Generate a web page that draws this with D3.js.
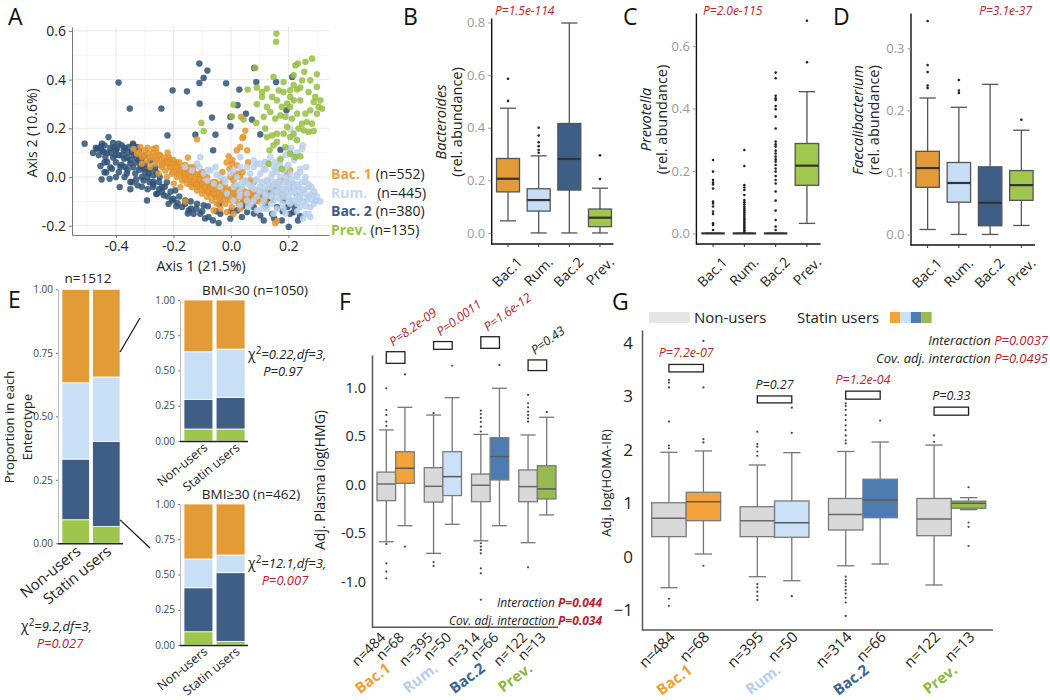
<!DOCTYPE html>
<html><head><meta charset="utf-8">
<script src="https://cdn.jsdelivr.net/npm/d3@7"></script>
<style>body{margin:0;background:#fff} text{font-family:'Open Sans',sans-serif}</style>
</head><body><svg id="chart" width="1050" height="700"></svg>
<script>
// ---------------- DATA ----------------
const enterotypes = ["Bac.1","Rum.","Bac.2","Prev."];
const legendLabels = ["Bac. 1","Rum.","Bac. 2","Prev."];
const legendN = [552,445,380,135];
const axTicksX = [-0.4,-0.2,0,0.2];
const axTicksY = [-0.2,0,0.2,0.4,0.6];

const scatterBac2 = [[-0.509,0.137],[-0.391,0.388],[-0.352,0.281],[-0.242,0.281],[-0.203,0.356],[-0.153,0.352],[-0.110,0.466],[-0.082,0.437],[-0.095,0.407],[-0.110,0.386],[-0.109,0.301],[-0.017,0.385],[-0.221,0.171],[-0.124,0.174],[-0.066,0.244],[-0.054,0.174],[-0.062,0.110],[-0.002,0.247],[0.023,0.295],[-0.002,0.208],[0.029,0.359],[0.052,0.260],[0.073,0.236],[0.081,0.448],[0.088,0.390],[0.102,0.175],[0.157,0.390],[0.193,0.274],[0.213,0.411],[0.172,0.112],[0.201,-0.205],[0.233,-0.178],[0.218,-0.144],
[-0.480,0.099],[-0.454,0.123],[-0.449,0.137],[-0.454,0.045],[-0.437,0.082],[-0.434,0.019],[-0.422,-0.007],[-0.426,0.164],[-0.408,0.123],[-0.402,0.089],[-0.391,0.137],[-0.385,0.041],[-0.387,-0.041],[-0.373,0.110],[-0.371,0.075],[-0.362,0.014],[-0.356,0.123],[-0.350,0.055],[-0.344,-0.021],[-0.339,0.089],[-0.333,0.014],[-0.327,0.123],[-0.325,-0.034],[-0.315,0.041],[-0.310,0.075],[-0.304,-0.014],[-0.292,-0.096],[-0.286,0.014],[-0.281,0.068],[-0.271,-0.041],[-0.263,0.041],[-0.257,-0.068],[-0.248,0.000],[-0.240,-0.041],[-0.234,-0.075],[-0.223,-0.021],[-0.217,-0.110],[-0.205,-0.096],[-0.194,-0.055],[-0.186,-0.107],[-0.170,-0.123],[-0.159,-0.096],[-0.147,-0.137],[-0.139,-0.130],[-0.130,-0.151],[-0.118,-0.110],[-0.107,-0.151],[-0.095,-0.116],[-0.078,-0.164],[-0.063,-0.178],[-0.043,-0.189],[-0.037,-0.151],[-0.002,-0.171],[0.021,-0.137],[0.038,-0.164],[0.056,-0.144],[0.079,-0.123],[0.102,-0.158],[0.114,-0.178],[0.125,-0.096],[0.143,-0.151],[0.160,-0.123],[0.177,-0.178],[0.197,-0.123],[0.206,-0.151],[0.183,-0.096],[0.096,-0.068],[0.079,-0.062],[0.125,-0.062],[0.044,-0.096],
[-0.466,0.116],[-0.443,0.103],[-0.431,0.062],[-0.414,0.034],[-0.397,0.116],[-0.379,0.089],[-0.368,0.041],[-0.344,0.103],[-0.341,0.137],[-0.321,0.068],[-0.298,0.034],[-0.283,-0.021],[-0.269,0.007],[-0.301,0.089],[-0.418,0.10],[-0.36,0.08],[-0.33,0.06],[-0.40,0.00],[-0.35,-0.05],[-0.30,0.02],[-0.27,-0.02],[-0.25,-0.05],
[-0.47,0.12],[-0.46,0.09],[-0.45,0.11],[-0.44,0.13],[-0.44,0.06],[-0.43,0.10],[-0.42,0.12],[-0.42,0.04],[-0.41,0.08],[-0.41,0.14],[-0.40,0.06],[-0.40,0.11],[-0.39,0.02],[-0.39,0.09],[-0.38,0.13],[-0.38,0.05],[-0.37,0.00],[-0.37,0.12],[-0.36,0.03],[-0.36,0.10],[-0.35,0.07],[-0.35,-0.02],[-0.34,0.04],[-0.34,0.13],[-0.33,0.08],[-0.33,-0.01],[-0.32,0.03],[-0.32,0.11],[-0.31,0.00],[-0.31,-0.04],[-0.30,0.05],[-0.29,0.00],[-0.29,-0.05],[-0.28,0.03],[-0.27,-0.03],[-0.26,0.02],[-0.26,-0.07],[-0.25,-0.02],[-0.24,-0.06],[-0.23,-0.04],[-0.22,-0.08],[-0.21,-0.06],[-0.20,-0.09],[-0.19,-0.12],[-0.18,-0.08],[-0.16,-0.11],[-0.15,-0.15],[-0.14,-0.10],[-0.12,-0.13],[-0.10,-0.14],[-0.09,-0.17],[-0.08,-0.12],[-0.05,-0.14],[-0.04,-0.11],[0.00,-0.14],[0.04,-0.12],[0.08,-0.15],[0.12,-0.12],[0.15,-0.17],[0.18,-0.14],[0.22,-0.12],[0.24,-0.16],[0.14,-0.09],[0.10,-0.07],[0.06,-0.08],[-0.44,0.02],[-0.45,-0.01]];

const scatterBac1 = [[-0.339,0.116],[-0.327,0.096],[-0.315,0.123],[-0.310,0.082],[-0.298,0.110],[-0.292,0.068],[-0.286,0.096],[-0.275,0.082],[-0.269,0.116],[-0.263,0.055],[-0.257,0.075],[-0.246,0.089],[-0.240,0.041],[-0.234,0.068],[-0.228,0.027],[-0.223,0.055],[-0.217,0.082],[-0.211,0.041],[-0.205,0.014],[-0.199,0.055],[-0.194,0.027],[-0.188,0.000],[-0.182,0.041],[-0.176,0.014],[-0.170,-0.014],[-0.165,0.021],[-0.159,0.000],[-0.153,-0.027],[-0.147,0.014],[-0.141,-0.014],[-0.136,-0.041],[-0.130,0.000],[-0.124,-0.027],[-0.118,-0.055],[-0.112,-0.014],[-0.107,-0.041],[-0.101,-0.068],[-0.095,-0.027],[-0.089,-0.055],[-0.083,-0.082],[-0.078,-0.041],[-0.072,-0.068],[-0.066,-0.096],[-0.060,-0.055],[-0.054,-0.082],[-0.049,-0.110],[-0.043,-0.062],[-0.037,-0.096],[-0.031,-0.075],[-0.026,-0.041],[-0.020,-0.110],[-0.014,-0.082],[-0.008,-0.055],[-0.002,-0.096],[0.003,-0.123],[0.009,-0.075],[0.015,-0.096],[0.021,-0.062],[0.027,-0.110],[0.032,-0.082],[0.038,-0.048],[0.044,-0.096],[0.056,-0.068],[0.061,-0.110],[0.067,-0.082],[0.079,-0.055],[0.085,-0.096],[0.096,-0.068],[0.108,-0.062],[0.119,-0.082],[0.131,-0.048],[0.143,-0.068],
[-0.310,0.055],[-0.281,0.041],[-0.252,0.014],[-0.223,0.000],[-0.199,-0.027],[-0.153,0.041],[-0.130,0.041],[-0.107,0.014],[-0.083,0.000],[-0.054,-0.021],[-0.028,-0.014],[0.009,-0.014],[0.023,0.014],[-0.002,0.000],[0.032,0.000],[0.067,-0.014],[-0.060,-0.137],[-0.014,-0.144],[0.009,-0.151],[0.032,-0.130],[-0.037,-0.130],
[-0.118,0.155],[-0.008,0.085],[0.021,0.048],[0.003,0.055],[0.035,0.247],[0.042,0.164],[0.032,0.123],[0.056,0.110],[0.015,-0.034],[-0.005,0.034],[0.093,-0.099],[0.154,-0.189],[0.160,-0.181],[0.181,-0.082],[0.195,0.014],[0.206,0.027],[-0.159,-0.100],[-0.110,-0.021],[-0.176,-0.041],[0.148,-0.041],[0.172,-0.014],
[-0.26,0.10],[-0.24,0.06],[-0.21,0.07],[-0.18,0.02],[-0.16,0.00],[-0.14,-0.03],[-0.12,-0.04],[-0.10,-0.05],[-0.08,-0.06],[-0.06,-0.07],[-0.04,-0.08],[-0.02,-0.07],[0.00,-0.06],[0.02,-0.08],[0.05,-0.09],[0.07,-0.07],[-0.19,0.06],[-0.15,0.03],[-0.11,0.00],[-0.07,-0.03],
[-0.32,0.10],[-0.30,0.09],[-0.29,0.12],[-0.28,0.08],[-0.27,0.10],[-0.26,0.07],[-0.25,0.09],[-0.24,0.05],[-0.23,0.08],[-0.22,0.06],[-0.21,0.04],[-0.20,0.07],[-0.20,0.02],[-0.19,0.04],[-0.18,0.06],[-0.18,0.01],[-0.17,0.03],[-0.16,0.05],[-0.16,-0.01],[-0.15,0.02],[-0.14,0.00],[-0.14,0.04],[-0.13,-0.02],[-0.13,0.02],[-0.12,0.01],[-0.12,-0.03],[-0.11,-0.01],[-0.10,-0.03],[-0.10,0.02],[-0.09,-0.04],[-0.09,0.00],[-0.08,-0.02],[-0.08,-0.06],[-0.07,-0.04],[-0.06,-0.02],[-0.06,-0.07],[-0.05,-0.05],[-0.04,-0.03],[-0.04,-0.09],[-0.03,-0.06],[-0.02,-0.04],[-0.02,-0.09],[-0.01,-0.07],[0.00,-0.05],[0.01,-0.09],[0.01,-0.04],[0.02,-0.07],[0.03,-0.05],[0.04,-0.08],[0.05,-0.06],[0.06,-0.09],[0.07,-0.06],[0.08,-0.08],[0.09,-0.06],[0.10,-0.09],[0.11,-0.07],[0.12,-0.10],[0.13,-0.08],[-0.015,0.06],[0.005,0.07],[-0.03,0.02],[0.01,0.01],[0.04,0.02],[0.08,-0.02],[0.06,0.06],[0.02,0.11],[0.04,0.16],[0.05,0.19],[-0.26,0.12],[-0.22,0.10],[-0.15,0.08]];

const scatterRum = [[-0.159,0.041],[-0.136,0.027],[-0.118,0.055],[-0.107,0.082],[-0.095,0.014],[-0.083,-0.014],[-0.072,0.027],[-0.054,0.041],[-0.037,0.000],[-0.020,-0.021],[-0.002,0.014],[0.009,-0.041],[0.021,0.000],[0.032,0.041],[0.038,-0.041],[0.050,-0.014],[0.056,-0.068],[0.067,0.014],[0.073,-0.034],[0.079,0.041],[0.085,-0.014],[0.090,0.055],[0.096,-0.055],[0.102,0.014],[0.108,-0.027],[0.114,0.034],[0.119,-0.068],[0.125,-0.014],[0.131,0.055],[0.137,-0.041],[0.143,0.014],[0.148,-0.096],[0.154,-0.021],[0.160,0.034],[0.166,-0.062],[0.172,0.000],[0.177,-0.041],[0.183,0.027],[0.189,-0.082],[0.195,-0.014],[0.201,-0.048],[0.206,0.014],[0.212,-0.096],[0.218,-0.027],[0.224,-0.068],[0.230,0.000],[0.235,-0.041],[0.241,-0.089],[0.247,-0.021],[0.253,-0.055],[0.259,0.000],[0.264,-0.096],[0.270,-0.041],[0.276,-0.123],[0.282,-0.068],[0.288,-0.110],[0.297,-0.096],[0.276,-0.164],[0.259,-0.151],[0.241,-0.123],[0.218,0.082],[0.206,0.096],[0.247,0.116],[0.195,0.116],[0.224,0.158],[0.206,0.199],[0.137,0.082],[0.119,0.062],[0.172,0.068],[0.154,0.062],[0.102,0.055],[0.079,0.068],[0.009,-0.096],[0.032,-0.116],[0.061,-0.123],[0.090,-0.137],[0.125,-0.130],[0.148,-0.151],[0.183,-0.130],[0.206,-0.110],[0.230,-0.110],[0.079,-0.096],[0.114,-0.096],[0.137,-0.075],[0.056,-0.096],[-0.014,-0.068],[-0.037,-0.041],[-0.060,-0.027],[0.009,0.027],[0.032,0.082],[0.056,0.041],[0.195,0.041],[0.241,0.034],[0.262,0.041],
[0.12,-0.05],[0.15,-0.06],[0.18,-0.07],[0.21,-0.06],[0.16,-0.03],[0.19,-0.02],[0.22,-0.04],[0.13,-0.02],[0.24,-0.06],[0.10,-0.04],[0.17,-0.09],[0.20,-0.10],[0.14,-0.11],[0.11,-0.11],[0.23,0.01],[0.26,-0.02],[0.28,-0.04],[0.25,-0.10],[0.27,-0.08],[0.14,-0.04],[0.17,-0.05],[0.20,-0.03],[0.23,-0.08],[0.16,-0.08],[0.19,-0.06],[0.12,-0.08],[0.09,-0.08],[0.07,-0.04],[0.05,-0.02],[0.03,-0.06],
[0.06,-0.03],[0.08,-0.05],[0.09,-0.01],[0.10,-0.06],[0.11,-0.02],[0.12,-0.07],[0.13,-0.04],[0.14,-0.08],[0.14,0.00],[0.15,-0.03],[0.16,-0.06],[0.16,0.02],[0.17,-0.02],[0.18,-0.05],[0.18,-0.11],[0.19,0.00],[0.20,-0.04],[0.20,-0.08],[0.21,-0.01],[0.22,-0.06],[0.22,-0.10],[0.23,-0.03],[0.24,-0.08],[0.24,0.02],[0.25,-0.05],[0.26,-0.07],[0.26,-0.12],[0.27,-0.03],[0.28,-0.09],[0.29,-0.06],[0.30,-0.08],[0.31,-0.10],[0.20,0.05],[0.22,0.07],[0.17,0.05],[0.23,0.10],[0.19,0.09],[0.25,0.13],[0.21,0.12],[0.15,0.04],[0.12,0.03],[0.04,-0.02],[0.02,-0.03],[-0.02,-0.01],[-0.05,0.01],[-0.08,0.03],[-0.11,0.04],[0.03,-0.08],[0.07,-0.11],[0.11,-0.13],[0.16,-0.13],[0.19,-0.15],[0.23,-0.14],[0.27,-0.15],[0.25,-0.17]];

const scatterPrev = [[0.158,0.589],[0.157,0.555],[0.282,0.486],[0.259,0.473],[0.233,0.466],[0.224,0.459],[0.276,0.397],[0.299,0.422],[0.255,0.432],[0.247,0.397],[0.218,0.377],[0.230,0.359],[0.241,0.367],[0.206,0.356],[0.183,0.349],[0.166,0.356],[0.299,0.370],[0.293,0.329],[0.311,0.315],[0.305,0.288],[0.317,0.281],[0.288,0.308],[0.276,0.274],[0.259,0.260],[0.241,0.315],[0.218,0.315],[0.206,0.288],[0.195,0.301],[0.177,0.288],[0.160,0.315],[0.143,0.329],[0.125,0.288],[0.108,0.329],[0.090,0.299],[0.114,0.247],[0.137,0.267],[0.154,0.240],[0.172,0.253],[0.189,0.247],[0.212,0.240],[0.230,0.260],[0.247,0.219],[0.264,0.226],[0.282,0.219],[0.270,0.185],[0.288,0.189],[0.253,0.192],[0.235,0.199],[0.218,0.178],[0.206,0.164],[0.183,0.178],[0.160,0.178],[0.143,0.171],[0.125,0.164],[0.119,0.199],[0.160,0.144],[0.189,0.123],[0.206,0.096],[0.224,0.082],[0.241,0.085],[0.148,0.130],[0.134,0.110],[0.172,0.075],[0.177,0.034],[0.131,0.055],[0.088,0.222],[0.058,0.359],[0.009,0.297],[0.003,0.249],[-0.095,0.189],[-0.103,0.222],[0.085,0.448],[0.044,0.236],[0.218,0.418],[0.183,0.390],[0.148,0.411],[0.125,0.363],[0.108,0.349],[0.090,0.367],[0.206,0.329],[0.270,0.349],[0.299,0.260],[0.230,0.151],[0.195,0.206]];

// Panel B-D boxplots: [lower whisker, Q1, median, Q3, upper whisker]
const bTicks = [0,0.2,0.4,0.6,0.8];
const bBoxes = [[0.046,0.156,0.206,0.283,0.474],[0,0.083,0.125,0.168,0.293],[0,0.163,0.281,0.416,0.798],[0,0.024,0.058,0.091,0.17]];
const bOutliers = [[0.502,0.586],[0.305,0.315,0.33,0.345,0.37,0.40],[],[0.205,0.295]];
const cTicks = [0,0.2,0.4,0.6];
const cBoxes = [[0,0,0,0,0],[0,0,0,0,0],[0,0,0,0,0],[0.032,0.154,0.217,0.288,0.454]];
const cOutliers = [[0.235,0.198,0.171,0.163,0.157,0.144,0.102,0.096,0.086,0.070,0.062,0.032,0.027,0.011],
 [0.267,0.216,0.155,0.147,0.139,0.123,0.107,0.1,0.093,0.086,0.08,0.074,0.068,0.062,0.056,0.05,0.045,0.04,0.035,0.03,0.025,0.02,0.015,0.01,0.005],
 [0.515,0.497,0.441,0.433,0.427,0.408,0.398,0.374,0.336,0.294,0.285,0.278,0.265,0.256,0.246,0.237,0.230,0.219,0.208,0.198,0.184,0.171,0.160,0.134,0.105,0.073,0.043,0.022,0.011],
 [0.548,0.681]];
const dTicks = [0,0.1,0.2,0.3];
const dBoxes = [[0.008,0.076,0.107,0.134,0.220],[0,0.052,0.083,0.116,0.205],[0,0.014,0.051,0.109,0.242],[0.0145,0.055,0.0795,0.103,0.168]];
const dOutliers = [[0.236,0.24,0.262,0.273,0.344],[0.228,0.232,0.249],[],[0.185]];
const pB = "P=1.5e-114", pC = "P=2.0e-115", pD = "P=3.1e-37";

// Panel E
const eGroups = ["Non-users","Statin users"];
const stackKeys = ["Prev.","Bac.2","Rum.","Bac.1"];
const nonUserN = {"Bac.1":484,"Rum.":395,"Bac.2":314,"Prev.":122};
const statinN = {"Bac.1":68,"Rum.":50,"Bac.2":66,"Prev.":13};
const bmiLow = [{"Prev.":0.085,"Bac.2":0.211,"Rum.":0.337,"Bac.1":0.367},{"Prev.":0.085,"Bac.2":0.225,"Rum.":0.342,"Bac.1":0.348}];
const bmiHigh = [{"Prev.":0.094,"Bac.2":0.312,"Rum.":0.204,"Bac.1":0.390},{"Prev.":0.026,"Bac.2":0.487,"Rum.":0.125,"Bac.1":0.362}];
const eTicks = [0,0.25,0.5,0.75,1];

// Panel F
const fTicks = [-1,-0.5,0,0.5,1];
const fNonBoxes = [[-0.59,-0.165,0.007,0.13,0.566],[-0.71,-0.18,-0.017,0.176,0.72],[-0.58,-0.176,-0.006,0.11,0.52],[-0.6,-0.176,-0.02,0.152,0.514]];
const fStatBoxes = [[-0.424,0.014,0.17,0.341,0.80],[-0.41,-0.113,0.083,0.341,0.90],[-0.424,0.049,0.29,0.486,0.997],[-0.313,-0.148,-0.044,0.196,0.697]];
const fNonOut = [[0.607,0.652,0.721,0.772,0.997,-0.613,-0.813,-0.899,-0.968],[0.74,-0.80,-0.84],[0.55,0.60,0.65,0.69,0.73,0.765,-0.606,-0.641,-0.675,-0.71,-0.865,-0.917,-1.19],[0.652,0.686,0.72,0.755,0.80,0.842,0.928,-0.855]];
const fStatOut = [[1.14,-0.64],[1.23],[1.238],[0.75]];
const fBracketTop = [1.375,1.48,1.53,1.29];
const fBracketBottom = [1.255,1.40,1.41,1.18];
const fP = ["P=8.2e-09","P=0.0011","P=1.6e-12","P=0.43"];
const fSig = [true,true,true,false];
const fInteraction = ["P=0.044","P=0.034"];

// Panel G
const gTicks = [-1,0,1,2,3,4];
const gNonBoxes = [[-0.58,0.375,0.72,1.01,1.955],[-0.375,0.375,0.674,0.936,1.717],[-0.17,0.5,0.79,1.09,1.97],[-0.53,0.393,0.706,1.09,2.09]];
const gStatBoxes = [[0.05,0.674,1.03,1.206,1.98],[-0.45,0.363,0.637,1.043,1.948],[-0.137,0.73,1.06,1.45,2.148],[0.88,0.906,1.0,1.04,1.105]];
const gNonOut = [[2.03,2.08,2.53,3.17,3.26,3.31,-0.79,-0.92],[1.89,1.97,2.06,2.11,2.34,-0.513,-0.575,-0.656,-0.737,-0.81],[2.12,2.18,2.27,2.37,2.46,2.56,2.65,2.75,2.82,2.87,-0.375,-0.44,-0.5,-0.56,-0.625,-0.69,-0.77,-0.86,-1.11],[2.15,2.27]];
const gStatOut = [[2.14,2.2,3.17,4.04,-0.17],[2.32,2.79,-0.74],[2.55],[1.30,0.64,0.56,0.20]];
const gBracketTop = [3.6,3.01,3.1,2.8];
const gBracketBottom = [3.46,2.88,2.95,2.65];
const gP = ["P=7.2e-07","P=0.27","P=1.2e-04","P=0.33"];
const gSig = [true,false,true,false];
const gInteraction = ["P=0.0037","P=0.0495"];

// ---------------- STYLE ----------------
const RED = "#B8232C";
const colScatter = {"Bac.1":"#E8962E","Rum.":"#BBD4EE","Bac.2":"#2F5479","Prev.":"#97C23F"};
const colLegend = {"Bac.1":"#EE9F35","Rum.":"#C3DAF2","Bac.2":"#3A5E86","Prev.":"#97C23F"};
const colBox = {"Bac.1":"#E39B37","Rum.":"#C7DEF5","Bac.2":"#3E5F85","Prev.":"#A2C74E"};
const colE = {"Bac.1":"#E39B37","Rum.":"#C8DFF5","Bac.2":"#3E5E85","Prev.":"#9FC64C"};
const colStat = {"Bac.1":"#F4A33A","Rum.":"#CBE1F8","Bac.2":"#4D7DB0","Prev.":"#97BB50"};
const colGroupLab = {"Bac.1":"#F0A030","Rum.":"#B5D0EE","Bac.2":"#3A6491","Prev.":"#8DB842"};

const svg = d3.select("#chart");

function label(t,x,y){svg.append("text").attr("x",x).attr("y",y).attr("font-size",23).attr("fill","#111").text(t);}

function drawBox(g, y, cx, w, s, o){
  const cw = w*o.cap;
  const line=(x1,y1,x2,y2,c,sw)=>g.append("line").attr("x1",x1).attr("y1",y1).attr("x2",x2).attr("y2",y2).attr("stroke",c).attr("stroke-width",sw);
  line(cx,y(s[4]),cx,y(s[3]),o.wc,o.ww);
  line(cx,y(s[1]),cx,y(s[0]),o.wc,o.ww);
  line(cx-cw/2,y(s[4]),cx+cw/2,y(s[4]),o.wc,o.ww);
  line(cx-cw/2,y(s[0]),cx+cw/2,y(s[0]),o.wc,o.ww);
  g.append("rect").attr("x",cx-w/2).attr("y",y(s[3])).attr("width",w).attr("height",Math.max(0,y(s[1])-y(s[3])))
    .attr("fill",o.fill).attr("stroke",o.bc).attr("stroke-width",o.bw);
  line(cx-w/2,y(s[2]),cx+w/2,y(s[2]),o.mc,o.mw);
  (o.out||[]).forEach(v=>g.append("circle").attr("cx",cx).attr("cy",y(v)).attr("r",o.r).attr("fill",o.oc));
}

// ---------------- PANEL A ----------------
label("A",8,25);
const ax = d3.scaleLinear().domain([-0.553,0.341]).range([72,329]);
const ay = d3.scaleLinear().domain([-0.238,0.616]).range([235,27]);
const gA = svg.append("g");
[-0.5,-0.3,-0.1,0.1,0.3].forEach(v=>gA.append("line").attr("x1",ax(v)).attr("x2",ax(v)).attr("y1",27).attr("y2",235).attr("stroke","#F4F4F4"));
[-0.1,0.1,0.3,0.5].forEach(v=>gA.append("line").attr("y1",ay(v)).attr("y2",ay(v)).attr("x1",72).attr("x2",329).attr("stroke","#F4F4F4"));
axTicksX.forEach(v=>gA.append("line").attr("x1",ax(v)).attr("x2",ax(v)).attr("y1",27).attr("y2",235).attr("stroke","#E8E8E8"));
axTicksY.forEach(v=>gA.append("line").attr("y1",ay(v)).attr("y2",ay(v)).attr("x1",72).attr("x2",329).attr("stroke","#E8E8E8"));
const drawPts=(arr,c)=>gA.append("g").selectAll("circle").data(arr).join("circle")
  .attr("cx",d=>ax(d[0])).attr("cy",d=>ay(d[1])).attr("r",3.1).attr("fill",c).attr("fill-opacity",0.85)
  .attr("stroke",d3.color(c).darker(0.4)).attr("stroke-width",0.4).attr("stroke-opacity",0.6);
drawPts(scatterBac2,colScatter["Bac.2"]);
drawPts(scatterBac1,colScatter["Bac.1"]);
drawPts(scatterRum,colScatter["Rum."]);
drawPts(scatterPrev,colScatter["Prev."]);
const axL = gA.append("g").attr("transform","translate(72,0)").call(d3.axisLeft(ay).tickValues(axTicksY).tickFormat(d=>d.toFixed(1)).tickSize(3).tickSizeOuter(0));
const axB = gA.append("g").attr("transform","translate(0,235)").call(d3.axisBottom(ax).tickValues(axTicksX).tickFormat(d=>d.toFixed(1)).tickSize(3).tickSizeOuter(0));
[axL,axB].forEach(a=>{a.select(".domain").attr("stroke","#777");a.selectAll(".tick line").attr("stroke","#777");a.selectAll("text").attr("font-size",14).attr("fill","#222").attr("font-family","'Open Sans',sans-serif");});
gA.append("text").attr("transform","translate(37,133) rotate(-90)").attr("text-anchor","middle").attr("font-size",14).attr("fill","#222").text("Axis 2 (10.6%)");
gA.append("text").attr("x",201).attr("y",271).attr("text-anchor","middle").attr("font-size",14).attr("fill","#222").text("Axis 1 (21.5%)");
enterotypes.forEach((e,i)=>{
  const t = gA.append("text").attr("x",331).attr("y",179+i*18.7).attr("font-size",14);
  t.append("tspan").attr("font-weight","bold").attr("fill",colLegend[e]).text(legendLabels[i]);
  t.append("tspan").attr("fill","#222").attr("dx", i===1?10:4).text("(n="+legendN[i]+")");
});

// ---------------- PANELS B,C,D ----------------
function boxPanel(o){
  const g = svg.append("g");
  const y = d3.scaleLinear().domain(o.dom).range([o.y0,o.y1]);
  const x = d3.scaleBand().domain(enterotypes).range(o.xr);
  const bw = x.bandwidth();
  enterotypes.forEach((e,i)=>drawBox(g,y,x(e)+bw/2,bw*0.75,o.boxes[i],{cap:0.7,wc:"#555",ww:1.3,fill:colBox[e],bc:"#555",bw:1.3,mc:"#333",mw:2.2,out:o.outs[i],r:1.3,oc:"#222"}));
  const yl = g.append("g").attr("transform",`translate(${o.xr[0]-1.5},0)`).call(d3.axisLeft(y).tickValues(o.ticks).tickFormat(d=>d.toFixed(1)).tickSize(3).tickSizeOuter(0));
  yl.select(".domain").attr("stroke","#111").attr("stroke-width",1.4);
  yl.selectAll(".tick line").attr("stroke","#999");
  yl.selectAll("text").attr("font-size",13).attr("fill","#9a9a9a").attr("font-family","'Open Sans',sans-serif");
  const xl = g.append("g").attr("transform",`translate(0,${o.y0})`).call(d3.axisBottom(x).tickSize(3).tickSizeOuter(0));
  xl.select(".domain").attr("stroke","#111").attr("stroke-width",1.4).attr("d",`M${o.xr[0]-1.5},0H${o.xr[1]-2}`);
  xl.selectAll(".tick line").attr("stroke","#333");
  xl.selectAll("text").attr("font-size",14).attr("fill","#222").attr("font-family","'Open Sans',sans-serif")
    .attr("text-anchor","end").attr("transform","translate(4,8) rotate(-45)").attr("dy","0.7em");
  const cy = (o.y1+o.y0)/2 - 9;
  g.append("text").attr("transform",`translate(${o.tx},${cy}) rotate(-90)`).attr("text-anchor","middle").attr("font-size",14.5).attr("font-style","italic").attr("fill","#222").text(o.title);
  g.append("text").attr("transform",`translate(${o.tx+16},${cy}) rotate(-90)`).attr("text-anchor","middle").attr("font-size",14.5).attr("fill","#222").text("(rel. abundance)");
  g.append("text").attr("x",o.px).attr("y",15).attr("text-anchor",o.pa).attr("font-size",12).attr("font-style","italic").attr("fill",RED).text(o.p);
}
label("B",403,25);
boxPanel({dom:[-0.042,0.817],y0:244,y1:18,xr:[492.7,615.3],boxes:bBoxes,outs:bOutliers,ticks:bTicks,title:"Bacteroides",tx:446,p:pB,px:495,pa:"start"});
label("C",623,25);
boxPanel({dom:[-0.034,0.706],y0:244,y1:13,xr:[697.4,822.6],boxes:cBoxes,outs:cOutliers,ticks:cTicks,title:"Prevotella",tx:651,p:pC,px:703,pa:"start"});
label("D",833,25);
boxPanel({dom:[-0.017,0.357],y0:245,y1:13,xr:[912,1037],boxes:dBoxes,outs:dOutliers,ticks:dTicks,title:"Faecalibacterium",tx:863,p:pD,px:1032,pa:"end"});

// ---------------- PANEL E ----------------
label("E",8,308);
function stackPanel(rows, xr, y0, y1, labFs, labOff){
  const g = svg.append("g");
  const x = d3.scaleBand().domain(eGroups).range(xr).paddingInner(0.1).paddingOuter(0.03);
  const y = d3.scaleLinear().domain([0,1]).range([y0,y1]);
  const series = d3.stack().keys(stackKeys)(rows);
  series.forEach(s=>{
    g.append("g").selectAll("rect").data(s).join("rect")
      .attr("x",(d,i)=>x(eGroups[i])).attr("width",x.bandwidth())
      .attr("y",d=>y(d[1])).attr("height",d=>y(d[0])-y(d[1]))
      .attr("fill",colE[s.key]).attr("stroke","#fff").attr("stroke-width",0.8);
  });
  const yl = g.append("g").attr("transform",`translate(${xr[0]-3},0)`).call(d3.axisLeft(y).tickValues(eTicks).tickFormat(d3.format(".2f")).tickSize(2).tickSizeOuter(0));
  yl.select(".domain").attr("stroke","#bbb");
  yl.selectAll(".tick line").attr("stroke","#777");
  yl.selectAll("text").attr("font-size",10).attr("fill","#444").attr("font-family","'Open Sans',sans-serif");
  g.append("line").attr("x1",xr[0]-3).attr("x2",xr[1]+2).attr("y1",y0+0.5).attr("y2",y0+0.5).attr("stroke","#222").attr("stroke-width",1.6);
  eGroups.forEach(e=>{
    g.append("text").attr("transform",`translate(${x(e)+x.bandwidth()/2+labOff[0]},${y0+labOff[1]}) rotate(-39)`)
      .attr("text-anchor","end").attr("font-size",labFs).attr("fill","#222").text(e);
  });
  return {x,y};
}
const mainRows = [nonUserN, statinN].map(c=>{const tot=d3.sum(stackKeys,k=>c[k]); const r={}; stackKeys.forEach(k=>r[k]=c[k]/tot); return r;});
const eMain = stackPanel(mainRows,[61,121],543.3,289.3,15,[6,10]);
const eLow = stackPanel(bmiLow,[183,246],441,300,12.5,[10,8]);
const eHigh = stackPanel(bmiHigh,[183,246],645,504,12.5,[10,8]);
svg.append("text").attr("x",88).attr("y",283).attr("text-anchor","middle").attr("font-size",13.5).attr("fill","#222").text("n=1512");
svg.append("text").attr("x",255).attr("y",295).attr("text-anchor","middle").attr("font-size",13.5).attr("fill","#222").text("BMI<30 (n=1050)");
svg.append("text").attr("x",251).attr("y",499).attr("text-anchor","middle").attr("font-size",13.5).attr("fill","#222").text("BMI≥30 (n=462)");
svg.append("text").attr("transform","translate(14,427) rotate(-90)").attr("text-anchor","middle").attr("font-size",13).attr("fill","#222").text("Proportion in each");
svg.append("text").attr("transform","translate(32,427) rotate(-90)").attr("text-anchor","middle").attr("font-size",13).attr("fill","#222").text("Enterotype");
svg.append("line").attr("x1",eMain.x("Statin users")+eMain.x.bandwidth()).attr("y1",eMain.y(0.753)).attr("x2",140).attr("y2",eLow.y(0.872)).attr("stroke","#111").attr("stroke-width",1.2);
svg.append("line").attr("x1",eMain.x("Statin users")+eMain.x.bandwidth()).attr("y1",eMain.y(0.092)).attr("x2",150).attr("y2",eHigh.y(0.688)).attr("stroke","#111").attr("stroke-width",1.2);
function chi(x,y,txt,p,px,py,red){
  const t = svg.append("text").attr("x",x).attr("y",y).attr("font-size",13).attr("fill","#222");
  t.append("tspan").attr("font-size",14).text("χ");
  t.append("tspan").attr("dy",-5).attr("font-size",10).text("2");
  t.append("tspan").attr("dy",5).attr("font-style","italic").text(txt);
  svg.append("text").attr("x",px).attr("y",py).attr("text-anchor","middle").attr("font-size",13).attr("font-style","italic").attr("fill",red?RED:"#222").text(p);
}
chi(21,631,"=9.2,df=3,","P=0.027",60,648,true);
chi(248,359,"=0.22,df=3,","P=0.97",283,376,false);
chi(248,568,"=12.1,df=3,","P=0.007",285,585,true);

// ---------------- PANELS F & G ----------------
function pairedPanel(o){
  const g = svg.append("g");
  const x = d3.scaleBand().domain(enterotypes).range(o.xr);
  const y = d3.scaleLinear().domain(o.dom).range([o.y0,o.y1]);
  const bw = x.bandwidth(), w = bw*o.wf;
  enterotypes.forEach((e,i)=>{
    const c = x(e)+bw/2;
    drawBox(g,y,c-w/2,w,o.non[i],{cap:o.cap,wc:"#777",ww:1.3,fill:"#D9D9D9",bc:"#7a7a7a",bw:1.3,mc:"#6a6a6a",mw:1.5,out:o.nonOut[i],r:1.1,oc:"#444"});
    drawBox(g,y,c+w/2,w,o.stat[i],{cap:o.cap,wc:"#777",ww:1.3,fill:colStat[e],bc:"#7a7a7a",bw:1.3,mc:"#5a5a5a",mw:1.5,out:o.statOut[i],r:1.1,oc:"#444"});
    g.append("rect").attr("x",c-w/2).attr("width",w).attr("y",y(o.bt[i])).attr("height",y(o.bb[i])-y(o.bt[i]))
      .attr("fill","none").attr("stroke","#222").attr("stroke-width",1.3);
    if(o.rot){
      g.append("text").attr("transform",`translate(${c-w/2+7},${y(o.bt[i])-5}) rotate(-36)`).attr("font-size",12.5).attr("font-style","italic").attr("fill",o.sig[i]?RED:"#222").text(o.p[i]);
    } else {
      g.append("text").attr("x",c).attr("y",y(o.bt[i])-7).attr("text-anchor","middle").attr("font-size",12.5).attr("font-style","italic").attr("fill",o.sig[i]?RED:"#222").text(o.p[i]);
    }
    [[c-w/2,o.nN[i]],[c+w/2,o.sN[i]]].forEach(([cx,n])=>{
      g.append("text").attr("transform",`translate(${cx+o.nOff[0]},${o.y0+o.nOff[1]}) rotate(-45)`).attr("text-anchor","end").attr("font-size",o.nfs).attr("fill","#222").text("n="+n);
    });
    g.append("text").attr("transform",`translate(${c+o.gOff[0]},${o.y0+o.gOff[1]}) rotate(-37)`).attr("text-anchor","end").attr("font-size",15).attr("font-weight","bold").attr("fill",colGroupLab[e]).text(e);
  });
  const yl = g.append("g").attr("transform",`translate(${o.xr[0]},0)`).call(d3.axisLeft(y).tickValues(o.ticks).tickFormat(o.fmt).tickSize(0).tickPadding(o.tp).tickSizeOuter(0));
  yl.select(".domain").attr("stroke","#555").attr("stroke-width",1.5);
  yl.selectAll("text").attr("font-size",o.tfs).attr("fill","#222").attr("font-family","'Open Sans',sans-serif");
  g.append("line").attr("x1",o.xr[0]).attr("x2",o.xend).attr("y1",o.y0).attr("y2",o.y0).attr("stroke","#555").attr("stroke-width",1.5);
  g.append("text").attr("transform",`translate(${o.tx},${o.ty}) rotate(-90)`).attr("text-anchor","middle").attr("font-size",o.tls).attr("fill","#222").text(o.title);
  o.inter.forEach((pv,j)=>{
    const t = g.append("text").attr("x",o.ix).attr("y",o.iy+j*o.idy).attr("text-anchor","end").attr("font-size",o.ifs).attr("font-style","italic").attr("fill","#222");
    t.append("tspan").text(j===0?"Interaction ":"Cov. adj. interaction ");
    t.append("tspan").attr("fill",RED).attr("font-weight",o.ibold?"bold":"normal").text(pv);
  });
  return {x,y};
}
label("F",339,310);
pairedPanel({xr:[372,561],xend:558,dom:[-1.475,1.341],y0:627.3,y1:355,wf:0.394,cap:0.8,non:fNonBoxes,stat:fStatBoxes,nonOut:fNonOut,statOut:fStatOut,
  bt:fBracketTop,bb:fBracketBottom,p:fP,sig:fSig,rot:true,nN:[484,395,314,122],sN:[68,50,66,13],nOff:[0,11],nfs:14,gOff:[-4,43],
  ticks:fTicks,fmt:d=>d.toFixed(1),tp:6,tfs:14.5,title:"Adj. Plasma log(HMG)",tx:325,ty:480,tls:14,inter:fInteraction,ix:602,iy:607,idy:18,ifs:12,ibold:true});
label("G",612,310);
pairedPanel({xr:[642,995.5],xend:993,dom:[-1.373,4.245],y0:630,y1:330,wf:0.39,cap:0.5,non:gNonBoxes,stat:gStatBoxes,nonOut:gNonOut,statOut:gStatOut,
  bt:gBracketTop,bb:gBracketBottom,p:gP,sig:gSig,rot:false,nN:[484,395,314,122],sN:[68,50,66,13],nOff:[7,8],nfs:15,gOff:[7,42],
  ticks:gTicks,fmt:d=>d<0?"−"+Math.abs(d):String(d),tp:9,tfs:17,title:"Adj. log(HOMA-IR)",tx:611,ty:483,tls:13,inter:gInteraction,ix:1048,iy:345,idy:17.5,ifs:13,ibold:false});
// G legend
svg.append("rect").attr("x",649).attr("y",312).attr("width",41).attr("height",11).attr("fill","#E6E6E6");
svg.append("text").attr("x",694).attr("y",323).attr("font-size",15).attr("fill","#222").text("Non-users");
svg.append("text").attr("x",797).attr("y",323).attr("font-size",15).attr("fill","#222").text("Statin users");
enterotypes.forEach((e,i)=>svg.append("rect").attr("x",890+i*10.4).attr("y",312).attr("width",10.4).attr("height",11).attr("fill",colStat[e]));
</script></body></html>
